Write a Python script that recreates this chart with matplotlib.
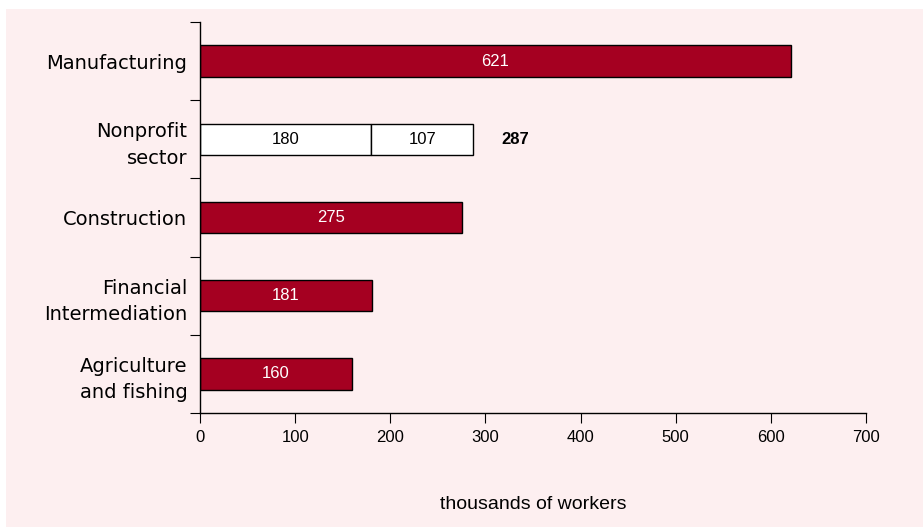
import matplotlib.pyplot as plt
from matplotlib.patches import Rectangle

plt.rcParams['font.family'] = ['Liberation Sans', 'DejaVu Sans']

categories = ["Manufacturing", "Nonprofit\nsector", "Construction",
              "Financial\nIntermediation", "Agriculture\nand fishing"]
values = [621, 180, 275, 181, 160]
nonprofit_extra = 107
nonprofit_total = 287
xticks = [0, 100, 200, 300, 400, 500, 600, 700]

red = "#a50021"
pink = "#fdeff0"

fig = plt.figure(figsize=(9.23, 5.31), dpi=100, facecolor="white")
fig.patches.append(Rectangle((6/923, 4/531), 917/923, 518/531,
                             transform=fig.transFigure, facecolor=pink,
                             edgecolor="none", zorder=-1))
ax = fig.add_axes([200/923, 1-413/531, 666/923, 391/531])
ax.set_facecolor("none")

y = list(range(len(categories)))
colors = [red, "white", red, red, red]
ax.barh(y, values, height=0.4, color=colors, edgecolor="black", linewidth=1)
ax.barh(1, nonprofit_extra, left=values[1], height=0.4, color="white",
        edgecolor="black", linewidth=1)

for i, v in enumerate(values):
    c = "white" if colors[i] == red else "black"
    ax.text(v/2, i, str(v), ha="center", va="center", color=c, fontsize=12)
ax.text(values[1] + nonprofit_extra/2, 1, str(nonprofit_extra), ha="center",
        va="center", color="black", fontsize=12)
ax.text(nonprofit_total + 30, 1, str(nonprofit_total), ha="left", va="center",
        fontsize=12, fontweight="bold")

ax.set_xlim(0, 700)
ax.set_ylim(len(categories) - 0.5, -0.5)
ax.set_xticks(xticks)
ax.set_yticks([i - 0.5 for i in range(len(categories) + 1)])
ax.set_yticklabels([])
ax.set_yticks(y, minor=True)
ax.set_yticklabels(categories, minor=True, fontsize=14, ha="right",
                   multialignment="right", linespacing=1.5,
                   family="DejaVu Sans")
ax.tick_params(axis="y", which="minor", length=0, pad=9)
ax.tick_params(axis="y", which="major", length=7, direction="out")
ax.tick_params(axis="x", length=7, labelsize=12, pad=5)
for s in ["top", "right"]:
    ax.spines[s].set_visible(False)
ax.spines["left"].set_linewidth(1)
ax.spines["bottom"].set_linewidth(1)
ax.set_xlabel("thousands of workers", fontsize=14, labelpad=37)

fig.savefig("out.png", dpi=100)
